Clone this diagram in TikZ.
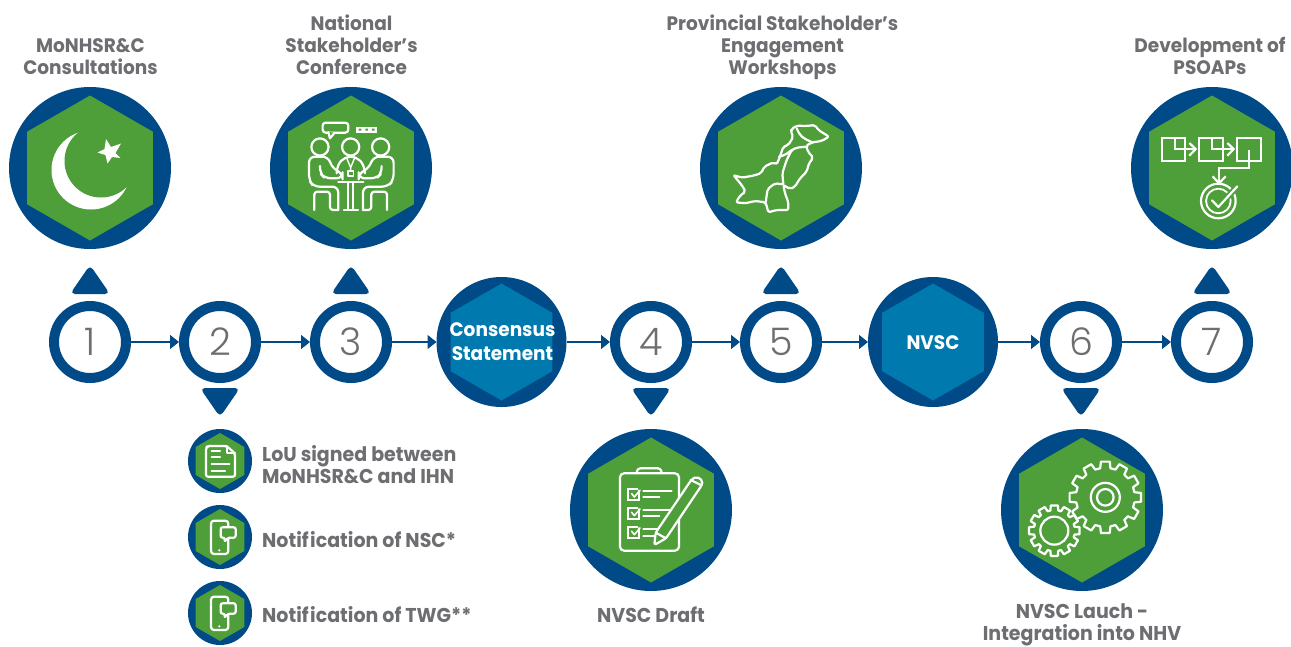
\documentclass[tikz,border=0pt]{standalone}
\usepackage{fontspec}
\setmainfont{Poppins}[FakeStretch=0.95]
\newfontfamily\numfont{Poppins Light}
\usetikzlibrary{arrows.meta}
\definecolor{navy}{HTML}{004A87}
\definecolor{leaf}{HTML}{4E9F39}
\definecolor{teal}{HTML}{0079AE}
\definecolor{txt}{HTML}{6D6E71}
\tikzset{
  bigc/.style={circle,fill=navy,minimum size=162pt,inner sep=0pt,outer sep=0pt},
  midc/.style={circle,fill=navy,minimum size=130pt,inner sep=0pt,outer sep=0pt},
  smallc/.style={circle,fill=navy,minimum size=64pt,inner sep=0pt,outer sep=0pt},
  numc/.style={circle,draw=navy,line width=10pt,fill=white,minimum size=72pt,inner sep=0pt,text=txt,font=\numfont\fontsize{38}{38}\selectfont},
  flow/.style={draw=navy,line width=1.5pt,-{Triangle[length=9pt,width=14pt]}},
  lab/.style={text=txt,align=center,inner sep=0pt,font=\bfseries\fontsize{19.5}{22}\selectfont},
  labl/.style={lab,align=left,anchor=west,font=\bfseries\fontsize{20}{22}\selectfont},
  wlab/.style={text=white,align=center,inner sep=0pt,font=\bfseries\fontsize{19.5}{24}\selectfont},
  icn/.style={draw=white,line width=2.2pt,line join=round,line cap=round},
  tick/.style={navy,rounded corners=5pt},
}
\newcommand{\hexa}[4]{\fill[#4] (#1,#2-#3) -- (#1+.868*#3,#2-.5*#3) -- (#1+.868*#3,#2+.5*#3) -- (#1,#2+#3) -- (#1-.868*#3,#2+.5*#3) -- (#1-.868*#3,#2-.5*#3) -- cycle;}
\newcommand{\triup}[1]{\fill[tick] (#1,265) -- (#1+20,294) -- (#1-20,294) -- cycle;}
\newcommand{\tridn}[1]{\fill[tick] (#1,417) -- (#1+20,388) -- (#1-20,388) -- cycle;}
\newcommand{\phoneicon}[1]{%
 \begin{scope}[shift={(170,#1)},x=.3333pt,y=-.3333pt]
  \draw[icn,rounded corners=3pt] (123,302) rectangle (175,402);
  \draw[icn,fill=leaf,rounded corners=2pt] (152,322) -- (197,322) -- (197,353) -- (172,353) -- (164,366) -- (164,353) -- (152,353) -- cycle;
  \fill[white] (148,391) circle (1.2pt);
 \end{scope}}
\newcommand{\geariconA}[6]{% cx cy Ro Rr half-outer half-root
 \begin{scope}[shift={(#1,#2)}]
  \draw[icn] (-#5:#3pt) \foreach \a in {0,30,...,330}{ -- (\a-#5:#3pt) -- (\a+#5:#3pt) -- (\a+#6:#4pt) -- (\a+30-#6:#4pt) } -- cycle;
 \end{scope}}
\begin{document}
\begin{tikzpicture}[x=1pt,y=-1pt]
\useasboundingbox (0,0) rectangle (1291,646);
\fill[white] (0,0) rectangle (1291,646);
% big badges
\node[bigc] (b1) at (90,168) {}; \hexa{90}{168}{72.5}{leaf}
\node[bigc] (b3) at (351,168) {}; \hexa{351}{168}{72.5}{leaf}
\node[bigc] (b5) at (781,168) {}; \hexa{781}{168}{72.5}{leaf}
\node[bigc] (b7) at (1212,168) {}; \hexa{1212}{168}{72.5}{leaf}
\node[bigc] (b4) at (651,510) {}; \hexa{651}{510}{72.5}{leaf}
\node[bigc] (b6) at (1082,510) {}; \hexa{1082}{510}{72.5}{leaf}
% small badges
\node[smallc] (s1) at (220,461) {}; \hexa{220}{461}{28}{leaf}
\node[smallc] (s2) at (220,537) {}; \hexa{220}{537}{28}{leaf}
\node[smallc] (s3) at (220,613) {}; \hexa{220}{613}{28}{leaf}
% timeline
\node[numc] (n1) at (90,342) {1};
\node[numc] (n2) at (220,342) {2};
\node[numc] (n3) at (351,342) {3};
\node[midc] (cs) at (501.5,342) {}; \hexa{501.5}{342}{58.5}{teal}
\node[wlab] (cst) at (502.5,342) {Consensus\\Statement};
\node[numc] (n4) at (651,342) {4};
\node[numc] (n5) at (781,342) {5};
\node[midc] (nv) at (933,342) {}; \hexa{933}{342}{58.5}{teal}
\node[wlab] (nvt) at (933,342.5) {NVSC};
\node[numc] (n6) at (1081,342) {6};
\node[numc] (n7) at (1212,342) {7};
\draw[flow] (n1) -- (n2);
\draw[flow] (n2) -- (n3);
\draw[flow] (n3) -- (cs);
\draw[flow] (cs) -- (n4);
\draw[flow] (n4) -- (n5);
\draw[flow] (n5) -- (nv);
\draw[flow] (nv) -- (n6);
\draw[flow] (n6) -- (n7);
\triup{90} \triup{351} \triup{781} \triup{1212}
\tridn{220} \tridn{651} \tridn{1081}
% labels
\node[lab] (l1) at (90.5,57) {MoNHSR\&C\\Consultations};
\node[lab] (l3) at (351.5,45) {National\\Stakeholder’s\\Conference};
\node[lab] (l5) at (782.5,47) {Provincial Stakeholder’s\\Engagement\\Workshops};
\node[lab] (l7) at (1210,56) {Development of\\PSOAPs};
\node[labl] (t1) at (262,465) {LoU signed between\\MoNHSR\&C and IHN};
\node[labl] (t2) at (262,540) {Notif\kern1.5pt ication of NSC*};
\node[labl] (t3) at (262,615) {Notif\kern1.5pt ication of TWG**};
\node[lab,font=\bfseries\fontsize{20}{22}\selectfont] (l4) at (651,615) {NVSC Draft};
\node[lab,font=\bfseries\fontsize{20}{22}\selectfont] (l6) at (1082,625) {NVSC Lauch -\\Integration into NHV};
% crescent and star
\fill[white] (91,170) circle (39.5pt);
\fill[leaf] (101,161) circle (36.5pt);
\fill[white] (106,139) -- (111,147) -- (121,143.5) -- (115.5,153) -- (120.5,158) -- (112,157) -- (107.5,163.5) -- (105.5,155) -- (97.5,152.5) -- (104.5,149) -- cycle;
% people
\begin{scope}[x=.3333pt,y=-.3333pt]
 \draw[icn,rounded corners=3pt] (968,368) rectangle (1045,398);
 \draw[icn,fill=leaf] (985,396) -- (990,415) -- (1004,398);
 \fill[white] (1068,380) rectangle (1130,398);
 \fill[leaf] (1076,386) rectangle (1084,392) (1096,386) rectangle (1104,392) (1116,386) rectangle (1124,392);
 \draw[icn] (960,441) circle (8.6pt) (1052,441) circle (8.6pt) (1142,441) circle (8.6pt);
 \draw[icn,rounded corners=6pt] (1015,630) -- (1015,560) -- (940,560) -- (927,540) -- (927,470) -- (985,470) -- (997,505) -- (1028,520) -- (1028,535) -- (975,535) -- (960,520) -- (960,498);
 \draw[icn,rounded corners=3pt] (943,630) -- (943,575) -- (990,575) -- (990,630) -- (1015,630);
 \draw[icn,rounded corners=6pt] (1089,630) -- (1089,560) -- (1164,560) -- (1181,540) -- (1181,470) -- (1120,470) -- (1107,505) -- (1076,520) -- (1076,535) -- (1130,535) -- (1145,520) -- (1145,498);
 \draw[icn,rounded corners=3pt] (1161,630) -- (1161,575) -- (1114,575) -- (1114,630) -- (1089,630);
 \draw[icn] (1015,546) -- (1090,546) (1045,550) -- (1045,630) (1060,550) -- (1060,630) (1032,630) -- (1074,630);
 \draw[icn] (1010,520) .. controls (1012,485) and (1030,472) .. (1052,470) .. controls (1075,472) and (1092,485) .. (1095,520);
 \draw[icn,line width=1.4pt] (1040,474) -- (1052,503) -- (1064,474) (1052,503) -- (1052,512);
 \draw[icn,line width=1.4pt] (1044,513) rectangle (1060,528);
\end{scope}
% map
\begin{scope}[shift={(725,115)},x=.3333pt,y=-.3333pt,rounded corners=2pt]
 \draw[icn] (200,42) -- (215,32) -- (245,33) -- (270,30) -- (280,45) -- (312,65) -- (290,78) -- (262,82) -- (243,92) -- (250,112) -- (265,128) -- (252,145) -- (245,170) -- (225,190) -- (210,215) -- (195,222) -- (175,210) -- (180,235) -- (190,262) -- (190,285) -- (155,285) -- (130,292) -- (122,262) -- (90,258) -- (60,265) -- (33,262) -- (45,242) -- (62,230) -- (50,210) -- (25,180) -- (50,188) -- (85,182) -- (108,175) -- (118,155) -- (145,142) -- (155,148) -- (165,125) -- (175,95) -- (190,90) -- (205,65) -- (197,50) -- cycle;
 \draw[icn] (175,208) -- (150,205) -- (128,222) -- (122,262);
 \draw[icn] (175,208) -- (172,175) -- (185,135) -- (200,105) -- (215,98) -- (243,95);
 \draw[icn] (162,125) -- (180,120) -- (200,105);
 \draw[icn] (215,40) -- (225,60) -- (240,72) -- (262,82);
\end{scope}
% flow chart
\begin{scope}[shift={(1150,125)},x=.3333pt,y=-.3333pt]
 \draw[icn,line cap=butt,line join=miter] (35,40) rectangle (105,108);
 \draw[icn,line cap=butt,line join=miter] (148,40) rectangle (220,108);
 \draw[icn,line cap=butt,line join=miter] (262,40) rectangle (332,108);
 \draw[icn,line cap=butt,line join=miter] (75,40) -- (75,72) -- (134,72);
 \draw[icn,line cap=butt,line join=miter] (118,54) -- (137,72) -- (118,92);
 \draw[icn,line cap=butt,line join=miter] (185,40) -- (185,72) -- (248,72);
 \draw[icn,line cap=butt,line join=miter] (232,54) -- (251,72) -- (232,92);
 \draw[icn,line cap=butt,line join=miter] (297,75) -- (297,128) -- (207,128) -- (207,172);
 \draw[icn,line cap=butt,line join=miter] (188,154) -- (207,175) -- (227,154);
 \draw[icn] (205,228) circle (17.3pt);
 \draw[icn,line width=1.8pt] (205,228) circle (12.3pt);
 \draw[leaf,line width=6pt] (186,226) -- (205,246) -- (262,184);
 \draw[icn] (186,226) -- (205,246) -- (262,184);
\end{scope}
% document
\begin{scope}[shift={(170,420)},x=.3333pt,y=-.3333pt]
 \draw[icn,rounded corners=2pt] (170,78) -- (112,78) -- (108,84) -- (108,170) -- (195,170) -- (195,100) -- cycle;
 \draw[icn] (170,78) -- (170,100) -- (195,100);
 \draw[icn] (125,92) -- (150,92) (125,112) -- (150,112) (125,132) -- (178,132) (125,152) -- (165,152);
\end{scope}
\phoneicon{420}
\phoneicon{496}
\phoneicon{572}
% clipboard
\begin{scope}[shift={(560,420)},x=.3333pt,y=-.3333pt]
 \draw[icn,rounded corners=4pt] (180,160) rectangle (357,392);
 \draw[icn,rounded corners=3pt] (230,160) -- (232,145) -- (303,145) -- (305,160);
 \foreach \yy in {207,263,320}{
  \draw[icn,line join=miter] (238,\yy+5) -- (238,\yy+33) -- (203,\yy+33) -- (203,\yy) -- (232,\yy);
  \draw[icn,line width=1.6pt] (215,\yy+14) -- (223,\yy+24) -- (240,\yy+4);
 }
 \draw[icn] (250,213) -- (335,213) (250,232) -- (298,232) (250,270) -- (330,270) (250,288) -- (298,288) (250,327) -- (295,327) (250,347) -- (290,347);
 \draw[icn,fill=leaf,rounded corners=2pt] (283,375) -- (287,338) -- (395,178) -- (410,170) -- (428,182) -- (425,196) -- (318,355) -- cycle;
 \draw[icn] (287,338) -- (318,355) (392,180) -- (425,196);
\end{scope}
% gears
\begin{scope}[shift={(990,420)},x=.3333pt,y=-.3333pt]
 \geariconA{346}{232}{36}{29.5}{7}{10}
 \draw[icn] (346,232) circle (14.5pt) (346,232) circle (8.3pt);
 \geariconA{193}{332}{25.5}{20.5}{8}{11}
 \draw[icn] (193,332) circle (14pt);
\end{scope}
\end{tikzpicture}
\end{document}
